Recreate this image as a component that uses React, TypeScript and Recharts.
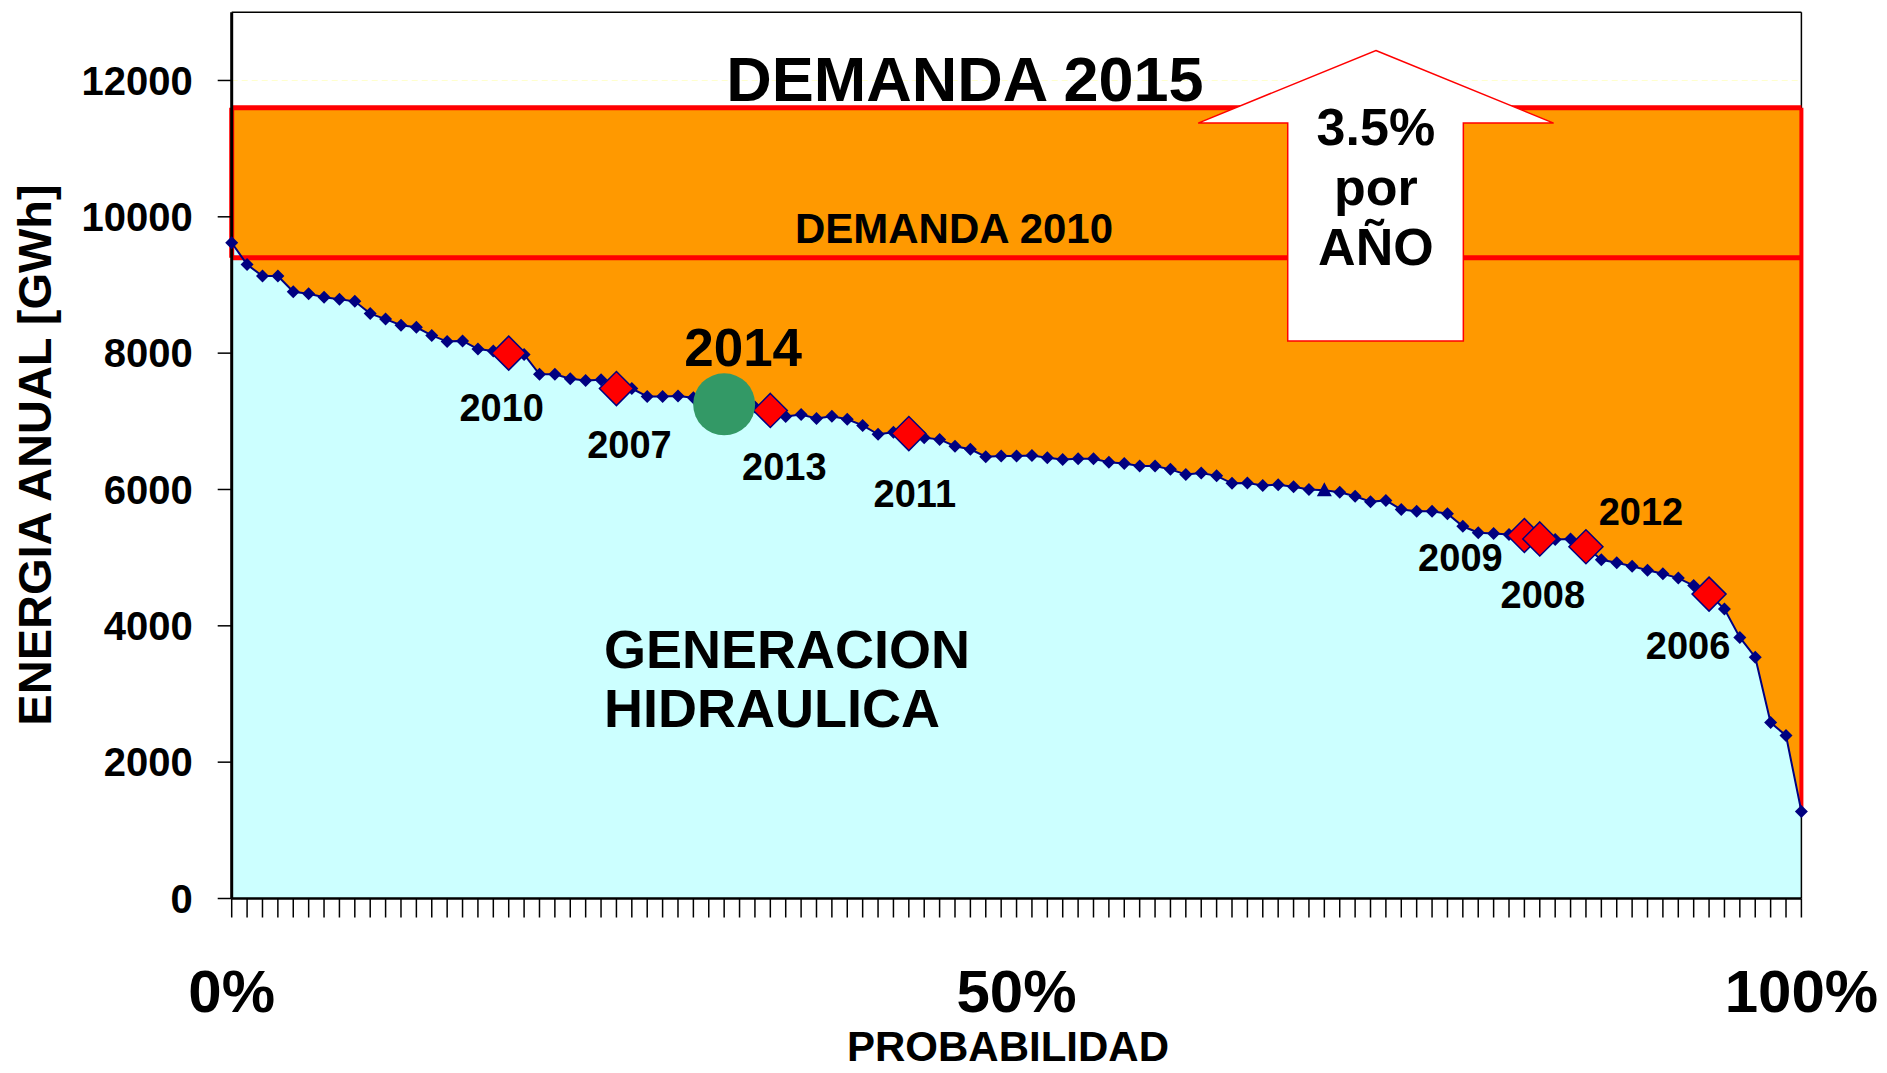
import React from 'react'
import { ComposedChart, Area, Line, XAxis, YAxis, CartesianGrid, ReferenceLine, ReferenceArea } from 'recharts'

// energia anual ordenada de mayor a menor (GWh), un punto por año de registro
const GENERACION = [
  9620, 9300, 9130, 9130, 8900, 8870, 8820, 8790, 8760, 8580,
  8500, 8410, 8380, 8260, 8170, 8180, 8060, 8030, 8000, 7980,
  7690, 7690, 7625, 7600, 7610, 7480, 7480, 7365, 7365, 7370,
  7345, 7320, 7280, 7240, 7210, 7160, 7070, 7100, 7040, 7075,
  7030, 6940, 6810, 6840, 6820, 6760, 6735, 6635, 6590, 6480,
  6490, 6490, 6500, 6465, 6440, 6450, 6450, 6400, 6380, 6345,
  6345, 6295, 6220, 6240, 6200, 6090, 6095, 6060, 6070, 6040,
  6000, 5990, 5960, 5900, 5820, 5840, 5705, 5680, 5680, 5645,
  5460, 5365, 5355, 5340, 5325, 5275, 5265, 5275, 5160, 4970,
  4925, 4875, 4815, 4765, 4700, 4590, 4465, 4245, 3830, 3540,
  2580, 2390, 1275,
]

const HIGHLIGHT_YEARS = ['2010', '2007', '2013', '2011', '2009', '2008', '2012', '2006']
const HIGHLIGHT_INDEX = [18, 25, 35, 44, 84, 85, 88, 96]
const TRIANGLE_INDEX = 71

const CURRENT_YEAR = '2014'
const CURRENT_INDEX = 32
const CURRENT_VALUE = 7250

const DEMANDA_2010 = 9400
const DEMANDA_2015 = 11600
const CRECIMIENTO = ['3.5%', 'por', 'AÑO']
const ARROW_BOX = { x1: 62.8, x2: 85.9, y1: 8180, y2: 12440 }

const Y_TICKS = [0, 2000, 4000, 6000, 8000, 10000, 12000]
const X_TICK_LABELS = ['0%', '50%', '100%']

const FONT = '"Liberation Sans", Arial, Helvetica, sans-serif'
const NAVY = '#000080'
const LAST = GENERACION.length - 1

// where each year's label sits relative to its marker (px)
const YEAR_LABEL_OFFSET: Record<string, [number, number]> = {
  '2010': [-7, 55], '2007': [13, 56], '2013': [14, 57], '2011': [6, 60],
  '2009': [-64, 23], '2008': [3, 56], '2012': [55, -35], '2006': [-21, 52],
}

const rows = GENERACION.map((v, i) => {
  const h = HIGHLIGHT_INDEX.indexOf(i)
  return {
    x: i,
    gen: v,
    hl: h >= 0 ? v : null,
    year: h >= 0 ? HIGHLIGHT_YEARS[h] : null,
    current: i === CURRENT_INDEX ? CURRENT_VALUE : null,
  }
})

const xLabelAt = new Map<number, string>()
X_TICK_LABELS.forEach((l) => xLabelAt.set(Math.round((parseFloat(l) / 100) * LAST), l))

const diamond = (cx: number, cy: number, r: number) =>
  `${cx},${cy - r} ${cx + r},${cy} ${cx},${cy + r} ${cx - r},${cy}`

const NavyDot = (props: any) => {
  const { cx, cy, index } = props
  if (cx == null || cy == null) return <g key={`n${index}`} />
  if (index === TRIANGLE_INDEX) {
    return <polygon key={`n${index}`} points={`${cx},${cy - 8} ${cx + 7.5},${cy + 6} ${cx - 7.5},${cy + 6}`} fill={NAVY} />
  }
  return <polygon key={`n${index}`} points={diamond(cx, cy, 6.5)} fill={NAVY} />
}

const YearDot = (props: any) => {
  const { cx, cy, index, payload } = props
  if (cy == null || payload.year == null) return <g key={`y${index}`} />
  const [dx, dy] = YEAR_LABEL_OFFSET[payload.year]
  return (
    <g key={`y${index}`}>
      <polygon points={diamond(cx, cy, 17)} fill="#FF0000" stroke={NAVY} strokeWidth={1.5} />
      <text x={cx + dx} y={cy + dy + 13} textAnchor="middle" fontFamily={FONT} fontWeight="bold" fontSize={38} fill="#000">
        {payload.year}
      </text>
    </g>
  )
}

const CurrentDot = (props: any) => {
  const { cx, cy, index } = props
  if (cy == null) return <g key={`c${index}`} />
  return (
    <g key={`c${index}`}>
      <circle cx={cx} cy={cy} r={31} fill="#339966" />
      <text x={cx + 19} y={cy - 38} textAnchor="middle" fontFamily={FONT} fontWeight="bold" fontSize={53} fill="#000">
        {CURRENT_YEAR}
      </text>
    </g>
  )
}

const Arrow = (props: any) => {
  const { x, y, width: w, height: h } = props
  const wy = y + h * 0.25
  const sl = x + w * 0.252
  const sr = x + w * 0.746
  const pts = [
    [x + w / 2, y], [x + w, wy], [sr, wy], [sr, y + h], [sl, y + h], [sl, wy], [x, wy],
  ].map((p) => p.join(',')).join(' ')
  return (
    <g>
      <polygon points={pts} fill="#FFFFFF" stroke="#FF0000" strokeWidth={1.5} />
      {CRECIMIENTO.map((t, i) => (
        <text key={t} x={x + w / 2} y={y + 95 + i * 60} textAnchor="middle" fontFamily={FONT} fontWeight="bold" fontSize={52} fill="#000">
          {t}
        </text>
      ))}
    </g>
  )
}

const XTick = (props: any) => {
  const { x, y, payload } = props
  const label = xLabelAt.get(payload.value)
  if (!label) return <g />
  return (
    <text x={x} y={y + 92} textAnchor="middle" fontFamily={FONT} fontWeight="bold" fontSize={60} fill="#000">
      {label}
    </text>
  )
}

const App: React.FC = () => {
  return (
    <div style={{ position: 'absolute', left: 0, top: 0, width: 1887, height: 1073, background: '#fff' }}>
      <ComposedChart width={1887} height={1073} data={rows} margin={{ top: 12.3, right: 85.6, bottom: 74.5, left: 31.7 }}>
        <CartesianGrid vertical={false} stroke="#FFFFCC" strokeDasharray="6 4" />
        <Area dataKey={(d: any) => [d.gen, DEMANDA_2015]} type="linear" fill="#FF9900" fillOpacity={1} stroke="none" isAnimationActive={false} zIndex={100} />
        <Area dataKey="gen" type="linear" fill="#CCFFFF" fillOpacity={1} stroke="none" isAnimationActive={false} zIndex={101} />
        <ReferenceLine y={13000} stroke="#000" strokeWidth={1.5} zIndex={102} />
        <ReferenceLine x={LAST} stroke="#000" strokeWidth={1.5} zIndex={102} />
        <ReferenceLine y={DEMANDA_2015} stroke="#FF0000" strokeWidth={5} zIndex={103} />
        <ReferenceLine y={DEMANDA_2010} stroke="#FF0000" strokeWidth={5} zIndex={103} />
        <ReferenceLine segment={[{ x: 0, y: DEMANDA_2010 }, { x: 0, y: DEMANDA_2015 }]} stroke="#FF0000" strokeWidth={5} zIndex={103} />
        <ReferenceLine segment={[{ x: LAST, y: GENERACION[LAST] }, { x: LAST, y: DEMANDA_2015 }]} stroke="#FF0000" strokeWidth={4} zIndex={103} />
        <Line dataKey="gen" type="linear" stroke={NAVY} strokeWidth={2} dot={NavyDot} activeDot={false} isAnimationActive={false} />
        <Line dataKey="hl" type="linear" stroke="none" dot={YearDot} activeDot={false} isAnimationActive={false} />
        <Line dataKey="current" type="linear" stroke="none" dot={CurrentDot} activeDot={false} isAnimationActive={false} />
        <ReferenceArea x1={ARROW_BOX.x1} x2={ARROW_BOX.x2} y1={ARROW_BOX.y1} y2={ARROW_BOX.y2} shape={Arrow} zIndex={1500} />
        <XAxis
          dataKey="x"
          type="number"
          domain={[0, LAST]}
          ticks={rows.map((r) => r.x)}
          interval={0}
          height={100}
          tickSize={19}
          tick={XTick}
          axisLine={{ stroke: '#000', strokeWidth: 2.5 }}
          tickLine={{ stroke: '#000', strokeWidth: 1.5 }}
        />
        <YAxis
          type="number"
          domain={[0, 13000]}
          ticks={Y_TICKS}
          interval={0}
          width={200}
          tickSize={14}
          tickMargin={25}
          tick={{ fontSize: 40, fontWeight: 'bold', fill: '#000', fontFamily: FONT }}
          axisLine={{ stroke: '#000', strokeWidth: 3 }}
          tickLine={{ stroke: '#000', strokeWidth: 1.5 }}
        />
      </ComposedChart>
      <svg width={1887} height={1073} style={{ position: 'absolute', left: 0, top: 0, pointerEvents: 'none' }}>
        <g fontFamily={FONT} fontWeight="bold" fill="#000">
          <text x={965} y={101} textAnchor="middle" fontSize={63}>DEMANDA 2015</text>
          <text x={954} y={243} textAnchor="middle" fontSize={42}>DEMANDA 2010</text>
          <text x={604} y={668} fontSize={54}>GENERACION</text>
          <text x={604} y={727} fontSize={54}>HIDRAULICA</text>
          <text x={51} y={455} textAnchor="middle" fontSize={47} transform="rotate(-90 51 455)">ENERGIA ANUAL [GWh]</text>
          <text x={1008} y={1061} textAnchor="middle" fontSize={42}>PROBABILIDAD</text>
        </g>
      </svg>
    </div>
  )
}

export default App
